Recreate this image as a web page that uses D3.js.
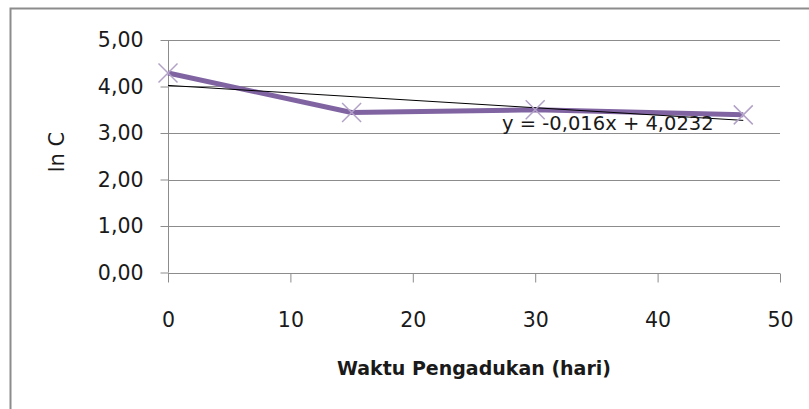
<!DOCTYPE html>
<html>
<head>
<meta charset="utf-8">
<script src="https://cdn.jsdelivr.net/npm/d3@7"></script>
<style>
  html, body { margin: 0; padding: 0; background: #fff; }
  svg { display: block; }
  text { font-family: "DejaVu Sans", "Noto Sans", sans-serif; fill: #1a1a1a; }
</style>
</head>
<body>
<svg id="chart" width="809" height="409"></svg>
<script>
// Stirring time (days) vs. ln of concentration
const days = [0, 15, 30, 47];
const lnC = [4.29, 3.44, 3.50, 3.39];

// Linear trendline reported on the chart
const trendSlope = -0.016;
const trendIntercept = 4.0232;
const trendLabel = "y = -0,016x + 4,0232";

const xTicks = [0, 10, 20, 30, 40, 50];
const yTicks = [0, 1, 2, 3, 4, 5];

const xTitle = "Waktu Pengadukan (hari)";
const yTitle = "ln C";

const svg = d3.select("#chart");
const W = 809, H = 409;
const plot = { left: 168, right: 780, top: 40, bottom: 272.5 };
const grey = "#8c8c8c";

svg.append("rect").attr("width", W).attr("height", H).attr("fill", "#fff");

// chart frame
svg.append("path")
  .attr("d", `M10.5,${H} V8.5 H${W}`)
  .attr("fill", "none")
  .attr("stroke", grey)
  .attr("stroke-width", 2);

const x = d3.scaleLinear().domain([0, 50]).range([plot.left, plot.right]);
const y = d3.scaleLinear().domain([0, 5]).range([plot.bottom, plot.top]);

const fmt = v => d3.format(".2f")(v).replace(".", ",");

// horizontal gridlines
svg.append("g")
  .selectAll("line")
  .data(yTicks.filter(v => v > 0))
  .join("line")
  .attr("x1", plot.left).attr("x2", plot.right)
  .attr("y1", d => Math.round(y(d)) + 0.5).attr("y2", d => Math.round(y(d)) + 0.5)
  .attr("stroke", grey).attr("stroke-width", 1);

// y axis
const yAxis = svg.append("g")
  .attr("transform", `translate(${plot.left + 0.5},0)`)
  .call(d3.axisLeft(y).tickValues(yTicks).tickFormat(fmt).tickSize(8).tickPadding(6));
yAxis.select(".domain").attr("stroke", grey).attr("d", `M0,${y(5)}V${y(0)}`);
yAxis.selectAll(".tick line").attr("stroke", grey);
yAxis.selectAll(".tick text")
  .style("font-size", "20.5px").attr("fill", "#1a1a1a").attr("x", -25);

// x axis
const xAxis = svg.append("g")
  .attr("transform", `translate(0,${Math.round(plot.bottom) + 0.5})`)
  .call(d3.axisBottom(x).tickValues(xTicks).tickFormat(d3.format("d")).tickSize(9).tickPadding(0));
xAxis.select(".domain").attr("stroke", grey).attr("d", `M${x(0)},0H${x(50)}`);
xAxis.selectAll(".tick line").attr("stroke", grey);
xAxis.selectAll(".tick text")
  .style("font-size", "20.5px").attr("fill", "#1a1a1a")
  .attr("dy", null).attr("y", 53);

// data line
const line = d3.line().x((d, i) => x(days[i])).y(d => y(d));
svg.append("path")
  .datum(lnC)
  .attr("d", line)
  .attr("fill", "none")
  .attr("stroke", "#8064a2")
  .attr("stroke-width", 5)
  .attr("stroke-linejoin", "round");

// trendline
svg.append("line")
  .attr("x1", x(0)).attr("y1", y(trendIntercept))
  .attr("x2", x(d3.max(days))).attr("y2", y(trendIntercept + trendSlope * d3.max(days)))
  .attr("stroke", "#000").attr("stroke-width", 1);

// cross markers
const m = 9.5;
svg.append("g")
  .selectAll("path")
  .data(lnC)
  .join("path")
  .attr("d", (d, i) => {
    const cx = x(days[i]), cy = y(d);
    return `M${cx - m},${cy - m}L${cx + m},${cy + m}M${cx - m},${cy + m}L${cx + m},${cy - m}`;
  })
  .attr("stroke", "#b3a2c7")
  .attr("stroke-width", 1.5)
  .attr("fill", "none");

// trendline equation
svg.append("text")
  .attr("x", 502).attr("y", 130)
  .style("font-size", "19.5px")
  .text(trendLabel);

// axis titles
svg.append("text")
  .attr("x", 474).attr("y", 375)
  .attr("text-anchor", "middle")
  .style("font-size", "19px").style("font-weight", 600)
  .text(xTitle);

svg.append("text")
  .attr("transform", `translate(64,152) rotate(-90)`)
  .attr("text-anchor", "middle")
  .style("font-size", "21px")
  .text(yTitle);
</script>
</body>
</html>
